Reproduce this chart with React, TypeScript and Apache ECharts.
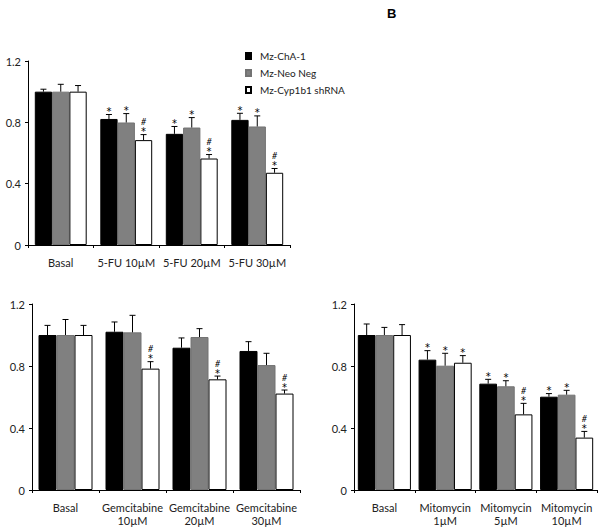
import React, { useEffect, useRef } from "react";
import * as echarts from "echarts";

const seriesNames = ["Mz-ChA-1", "Mz-Neo Neg", "Mz-Cyp1b1 shRNA"];
const yTicks = [0, 0.4, 0.8, 1.2];

// Panel 1: 5-FU
const fuCategories = ["Basal", "5-FU 10µM", "5-FU 20µM", "5-FU 30µM"];
const fuChA = [1.0, 0.822, 0.725, 0.816];
const fuChAErr = [0.016, 0.029, 0.048, 0.043];
const fuNeo = [1.0, 0.799, 0.766, 0.773];
const fuNeoErr = [0.048, 0.058, 0.065, 0.069];
const fuCyp = [1.0, 0.684, 0.564, 0.471];
const fuCypErr = [0.04, 0.036, 0.026, 0.028];
const fuChANotes = ["", "*", "*", "*"];
const fuNeoNotes = ["", "*", "*", "*"];
const fuCypNotes = ["", "#*", "#*", "#*"];

// Panel 2: Gemcitabine
const gemCategories = ["Basal", "Gemcitabine\n10µM", "Gemcitabine\n20µM", "Gemcitabine\n30µM"];
const gemChA = [1.0, 1.021, 0.918, 0.897];
const gemChAErr = [0.062, 0.063, 0.063, 0.06];
const gemNeo = [1.0, 1.017, 0.987, 0.806];
const gemNeoErr = [0.1, 0.11, 0.054, 0.076];
const gemCyp = [1.0, 0.783, 0.714, 0.622];
const gemCypErr = [0.062, 0.045, 0.021, 0.023];
const gemChANotes = ["", "", "", ""];
const gemNeoNotes = ["", "", "", ""];
const gemCypNotes = ["", "#*", "#*", "#*"];

// Panel 3: Mitomycin
const mitoCategories = ["Basal", "Mitomycin\n1µM", "Mitomycin\n5µM", "Mitomycin\n10µM"];
const mitoChA = [1.0, 0.841, 0.686, 0.602];
const mitoChAErr = [0.071, 0.058, 0.028, 0.02];
const mitoNeo = [1.0, 0.802, 0.669, 0.615];
const mitoNeoErr = [0.049, 0.08, 0.036, 0.028];
const mitoCyp = [1.0, 0.821, 0.488, 0.338];
const mitoCypErr = [0.067, 0.046, 0.071, 0.04];
const mitoChANotes = ["", "*", "*", "*"];
const mitoNeoNotes = ["", "*", "*", "*"];
const mitoCypNotes = ["", "*", "#*", "#*"];

const FONT = "Lato";
const fills = ["#000000", "#808080", "#ffffff"];
const borders = ["#000000", "#737373", "#000000"];

const panels = [
  {
    grid: { left: 28, top: 61, width: 262, height: 184 },
    barWidth: 17.3,
    categories: fuCategories,
    vals: [fuChA, fuNeo, fuCyp],
    errs: [fuChAErr, fuNeoErr, fuCypErr],
    notes: [fuChANotes, fuNeoNotes, fuCypNotes],
  },
  {
    grid: { left: 32, top: 304, width: 268, height: 186 },
    barWidth: 18,
    categories: gemCategories,
    vals: [gemChA, gemNeo, gemCyp],
    errs: [gemChAErr, gemNeoErr, gemCypErr],
    notes: [gemChANotes, gemNeoNotes, gemCypNotes],
  },
  {
    grid: { left: 354, top: 304, width: 243, height: 186 },
    barWidth: 17.7,
    categories: mitoCategories,
    vals: [mitoChA, mitoNeo, mitoCyp],
    errs: [mitoChAErr, mitoNeoErr, mitoCypErr],
    notes: [mitoChANotes, mitoNeoNotes, mitoCypNotes],
  },
];

function buildOption() {
  const grids: any[] = [];
  const xAxes: any[] = [];
  const yAxes: any[] = [];
  const series: any[] = [];

  panels.forEach((p, pi) => {
    grids.push({ ...p.grid, containLabel: false });
    xAxes.push({
      type: "category",
      gridIndex: pi,
      data: p.categories,
      axisLine: { lineStyle: { color: "#000", width: 1 } },
      axisTick: { show: true, length: 3, lineStyle: { color: "#000" } },
      axisLabel: {
        fontFamily: FONT,
        fontSize: 11,
        color: "#222",
        margin: 11,
        lineHeight: 13,
        interval: 0,
      },
    });
    yAxes.push({
      type: "value",
      gridIndex: pi,
      min: 0,
      max: 1.2,
      interval: 0.4,
      splitLine: { show: false },
      axisLine: { show: true, lineStyle: { color: "#000", width: 1 } },
      axisTick: { show: true, length: 3, lineStyle: { color: "#000" } },
      axisLabel: {
        fontFamily: FONT,
        fontSize: 11,
        color: "#222",
        margin: 7,
        formatter: (v: number) => {
          const t = yTicks.find((x) => Math.abs(x - v) < 1e-6);
          return t === undefined ? "" : String(t);
        },
      },
    });

    p.vals.forEach((vals, si) => {
      series.push({
        type: "bar",
        name: seriesNames[si],
        xAxisIndex: pi,
        yAxisIndex: pi,
        data: vals,
        barWidth: p.barWidth,
        barGap: "0%",
        itemStyle: { color: fills[si], borderColor: borders[si], borderWidth: 1 },
        z: 2,
      });
    });

    p.vals.forEach((vals, si) => {
      const errs = p.errs[si];
      const notes = p.notes[si];
      const offset = (si - 1) * p.barWidth;
      series.push({
        type: "custom",
        xAxisIndex: pi,
        yAxisIndex: pi,
        z: 5,
        silent: true,
        clip: false,
        data: vals.map((v, ci) => [ci, v, v + errs[ci]]),
        renderItem: (params: any, api: any) => {
          const ci = api.value(0);
          const base = api.coord([ci, api.value(1)]);
          const top = api.coord([ci, api.value(2)]);
          const x = base[0] + offset;
          const children: any[] = [
            {
              type: "line",
              shape: { x1: x, y1: base[1], x2: x, y2: top[1] },
              style: { stroke: "#000", lineWidth: 1 },
            },
            {
              type: "line",
              shape: { x1: x - 3, y1: top[1], x2: x + 3, y2: top[1] },
              style: { stroke: "#000", lineWidth: 1 },
            },
          ];
          const note = notes[params.dataIndex] || "";
          if (note.includes("*")) {
            children.push({
              type: "text",
              x: x,
              y: top[1] + 2,
              style: {
                text: "*",
                fontFamily: "DejaVu Sans",
                fontSize: 10,
                lineHeight: 10,
                fill: "#000",
                align: "center",
                verticalAlign: "bottom",
              },
            });
          }
          if (note.includes("#")) {
            children.push({
              type: "text",
              x: x,
              y: top[1] - 8.5,
              style: {
                text: "#",
                fontFamily: FONT,
                fontSize: 9,
                lineHeight: 9,
                fontStyle: "italic",
                fill: "#000",
                align: "center",
                verticalAlign: "bottom",
              },
            });
          }
          return { type: "group", children };
        },
      });
    });
  });

  return {
    animation: false,
    backgroundColor: "#ffffff",
    title: {
      text: "B",
      left: 382,
      top: 2,
      textStyle: { fontFamily: "Liberation Sans", fontSize: 13, fontWeight: "bold", color: "#000" },
    },
    legend: {
      orient: "vertical",
      left: 240,
      top: 46,
      itemWidth: 5,
      itemHeight: 6,
      itemGap: 7,
      icon: "rect",
      data: seriesNames,
      textStyle: { fontFamily: FONT, fontSize: 10, color: "#222", padding: [0, 0, 0, 4] },
      selectedMode: false,
    },
    grid: grids,
    xAxis: xAxes,
    yAxis: yAxes,
    series,
  };
}

export default function App() {
  const ref = useRef<HTMLDivElement>(null);
  useEffect(() => {
    document.body.style.margin = "0";
    if (!ref.current) return;
    const chart = echarts.init(ref.current, undefined, { renderer: "svg" });
    chart.setOption(buildOption() as any);
    return () => chart.dispose();
  }, []);
  return <div ref={ref} style={{ width: 600, height: 529 }} />;
}
